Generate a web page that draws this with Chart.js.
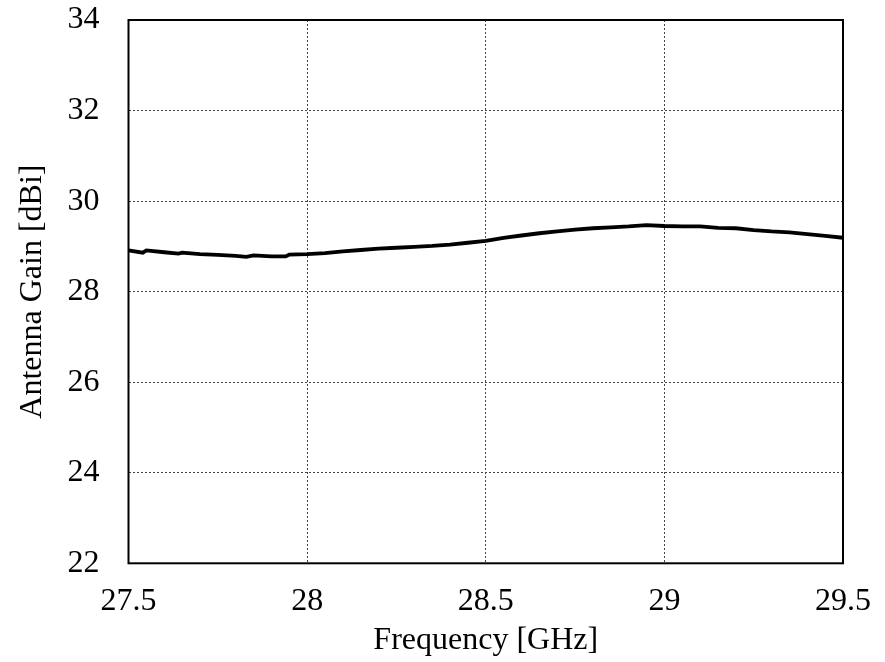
<!DOCTYPE html>
<html>
<head>
<meta charset="utf-8">
<script src="https://cdn.jsdelivr.net/npm/chart.js@4/dist/chart.umd.min.js"></script>
<style>
  html, body { margin: 0; padding: 0; background: #fff; }
  #wrap { width: 885px; height: 662px; }
</style>
</head>
<body>
<div id="wrap"><canvas id="c" width="885" height="662"></canvas></div>
<script>
const frequencies = [27.50, 27.54, 27.55, 27.60, 27.64, 27.65, 27.70, 27.75, 27.80, 27.83, 27.85, 27.90, 27.94, 27.95,
  28.00, 28.05, 28.10, 28.15, 28.20, 28.25, 28.30, 28.35, 28.40, 28.45, 28.50, 28.55, 28.60, 28.65, 28.70, 28.75,
  28.80, 28.85, 28.90, 28.95, 29.00, 29.05, 29.10, 29.15, 29.20, 29.25, 29.30, 29.35, 29.40, 29.45, 29.50];
const gains = [28.91, 28.86, 28.91, 28.87, 28.84, 28.86, 28.83, 28.81, 28.79, 28.77, 28.80, 28.78, 28.78, 28.82,
  28.83, 28.85, 28.89, 28.92, 28.95, 28.97, 28.99, 29.01, 29.04, 29.08, 29.12, 29.19, 29.24, 29.29, 29.33, 29.37,
  29.40, 29.42, 29.44, 29.47, 29.45, 29.44, 29.44, 29.41, 29.40, 29.36, 29.33, 29.31, 29.27, 29.23, 29.19];
const xTicks = [27.5, 28, 28.5, 29, 29.5];
const yTicks = [22, 24, 26, 28, 30, 32, 34];
const xTitle = 'Frequency [GHz]';
const yTitle = 'Antenna Gain [dBi]';

const FONT = "'Liberation Serif', 'Times New Roman', serif";

const boxPlugin = {
  id: 'box',
  afterDraw(chart) {
    const a = chart.chartArea, ctx = chart.ctx;
    ctx.save();
    ctx.strokeStyle = '#000';
    ctx.lineWidth = 2;
    ctx.setLineDash([]);
    ctx.strokeRect(a.left, a.top, a.right - a.left, a.bottom - a.top);
    ctx.restore();
  }
};

function zeroPad(scale) {
  scale.paddingTop = 0; scale.paddingBottom = 0;
  scale.paddingLeft = 0; scale.paddingRight = 0;
}

new Chart(document.getElementById('c'), {
  type: 'line',
  data: {
    datasets: [{
      data: frequencies.map((f, i) => ({ x: f, y: gains[i] })),
      borderColor: '#000',
      borderWidth: 3.8,
      pointRadius: 0,
      tension: 0,
      fill: false
    }]
  },
  options: {
    responsive: false,
    animation: false,
    devicePixelRatio: 1,
    layout: { padding: { left: 0, right: 42, top: 20, bottom: 0 } },
    plugins: { legend: { display: false }, tooltip: { enabled: false } },
    scales: {
      x: {
        type: 'linear',
        min: 27.5, max: 29.5,
        afterBuildTicks(scale) { scale.ticks = xTicks.map(v => ({ value: v })); },
        afterFit(scale) { scale.height = 98.7; zeroPad(scale); },
        ticks: {
          color: '#000',
          font: { family: FONT, size: 32 },
          padding: 19,
          maxRotation: 0,
          autoSkip: false,
          callback: v => String(v)
        },
        grid: { color: '#444', lineWidth: 1, drawTicks: false },
        border: { display: false, dash: [2, 2] },
        title: {
          display: true, text: xTitle, color: '#000',
          font: { family: FONT, size: 32 },
          padding: { top: 4, bottom: 2 }
        }
      },
      y: {
        type: 'linear',
        min: 22, max: 34,
        afterBuildTicks(scale) { scale.ticks = yTicks.map(v => ({ value: v })); },
        afterFit(scale) { scale.width = 128.5; zeroPad(scale); },
        ticks: {
          color: '#000',
          font: { family: FONT, size: 32 },
          padding: 29,
          autoSkip: false,
          callback: v => String(v)
        },
        grid: { color: '#444', lineWidth: 1, drawTicks: false },
        border: { display: false, dash: [2, 2] },
        title: {
          display: true, text: yTitle, color: '#000',
          font: { family: FONT, size: 32 },
          padding: { top: 13, bottom: 0 }
        }
      }
    }
  },
  plugins: [boxPlugin]
});
</script>
</body>
</html>
